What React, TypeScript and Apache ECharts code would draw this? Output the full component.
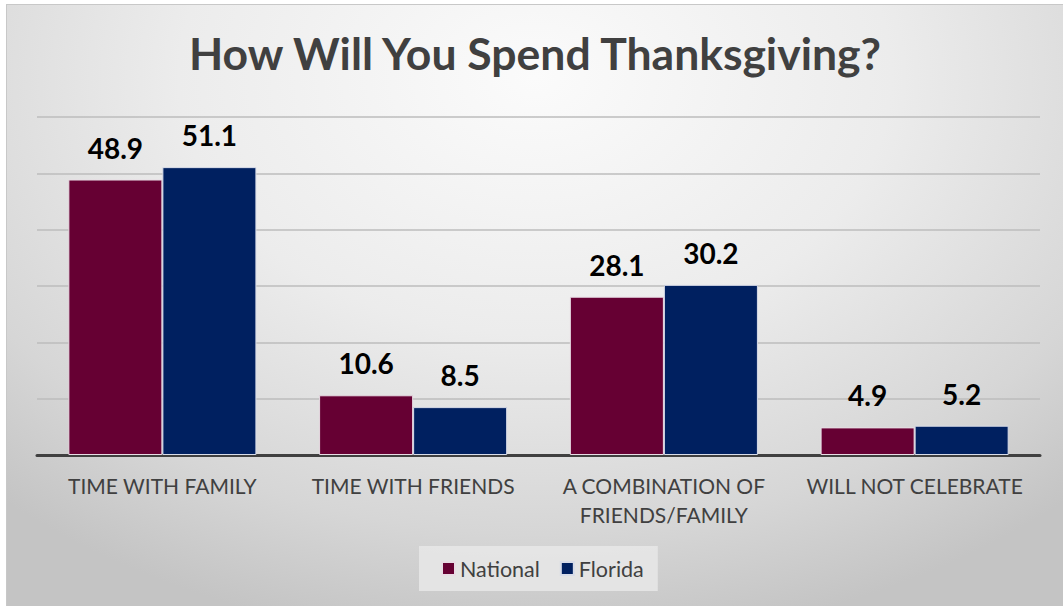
import React, { useEffect, useRef } from "react";
import * as echarts from "echarts";

const categories = [
  "TIME WITH FAMILY",
  "TIME WITH FRIENDS",
  "A COMBINATION OF\nFRIENDS/FAMILY",
  "WILL NOT CELEBRATE",
];
const nationalValues = [48.9, 10.6, 28.1, 4.9];
const floridaValues = [51.1, 8.5, 30.2, 5.2];
const seriesNames = ["National", "Florida"];
const titleText = "How Will You Spend Thanksgiving?";

const FONT = "Lato, 'Open Sans', sans-serif";

export default function App() {
  const ref = useRef<HTMLDivElement>(null);
  useEffect(() => {
    document.body.style.margin = "0";
    const chart = echarts.init(ref.current!, null, { renderer: "svg" });
    const label = {
      show: true,
      position: "top",
      distance: 18,
      color: "#000000",
      fontSize: 28,
      fontWeight: "bold",
      fontFamily: FONT,
    };
    chart.setOption({
      animation: false,
      backgroundColor: "transparent",
      title: {
        text: titleText,
        left: "center",
        top: 20,
        textStyle: {
          fontFamily: FONT,
          fontSize: 44.5,
          fontWeight: "bold",
          color: "#404040",
        },
      },
      grid: { left: 30, right: 23, top: 112, bottom: 151 },
      legend: {
        data: seriesNames,
        left: 412,
        top: 541,
        icon: "rect",
        itemWidth: 13,
        itemHeight: 13,
        itemGap: 20,
        backgroundColor: "rgba(232,232,232,0.85)",
        padding: [11, 14, 11, 22],
        textStyle: {
          fontFamily: FONT,
          fontSize: 21.5,
          color: "#404040",
          lineHeight: 23,
        },
      },
      xAxis: {
        type: "category",
        data: categories,
        axisLine: { show: true, lineStyle: { color: "#404040", width: 3 } },
        axisTick: { show: false },
        axisLabel: {
          fontFamily: FONT,
          fontSize: 21,
          color: "#404040",
          lineHeight: 29,
          margin: 16,
          interval: 0,
        },
      },
      yAxis: {
        type: "value",
        min: 0,
        max: 60,
        interval: 10,
        axisLabel: { show: false },
        axisLine: { show: false },
        axisTick: { show: false },
        splitLine: { lineStyle: { color: "#bcbcbc", width: 1.5 } },
      },
      series: [
        {
          name: seriesNames[0],
          type: "bar",
          data: nationalValues,
          barGap: "0%",
          barCategoryGap: "25%",
          itemStyle: { color: "#660033", borderColor: "#e8dce4", borderWidth: 1 },
          label,
        },
        {
          name: seriesNames[1],
          type: "bar",
          data: floridaValues,
          barGap: "0%",
          barCategoryGap: "25%",
          itemStyle: { color: "#002060", borderColor: "#d8dce8", borderWidth: 1 },
          label,
        },
      ],
    });
    return () => chart.dispose();
  }, []);
  return (
    <div
      style={{
        position: "fixed",
        left: 0,
        top: 0,
        width: 1063,
        height: 606,
        background: "#ffffff",
      }}
    >
      <div
        style={{
          position: "absolute",
          left: 6,
          top: 4,
          width: 1057,
          height: 602,
          background:
            "radial-gradient(ellipse 75% 95% at 50% 12%, #fbfbfb 0%, #ececec 45%, #d6d6d6 80%, #c4c4c4 100%)",
          borderTop: "1px solid #c8c8c8",
          borderLeft: "1px solid #c8c8c8",
          boxSizing: "border-box",
        }}
      >
        <div ref={ref} style={{ width: 1056, height: 601 }} />
      </div>
    </div>
  );
}
